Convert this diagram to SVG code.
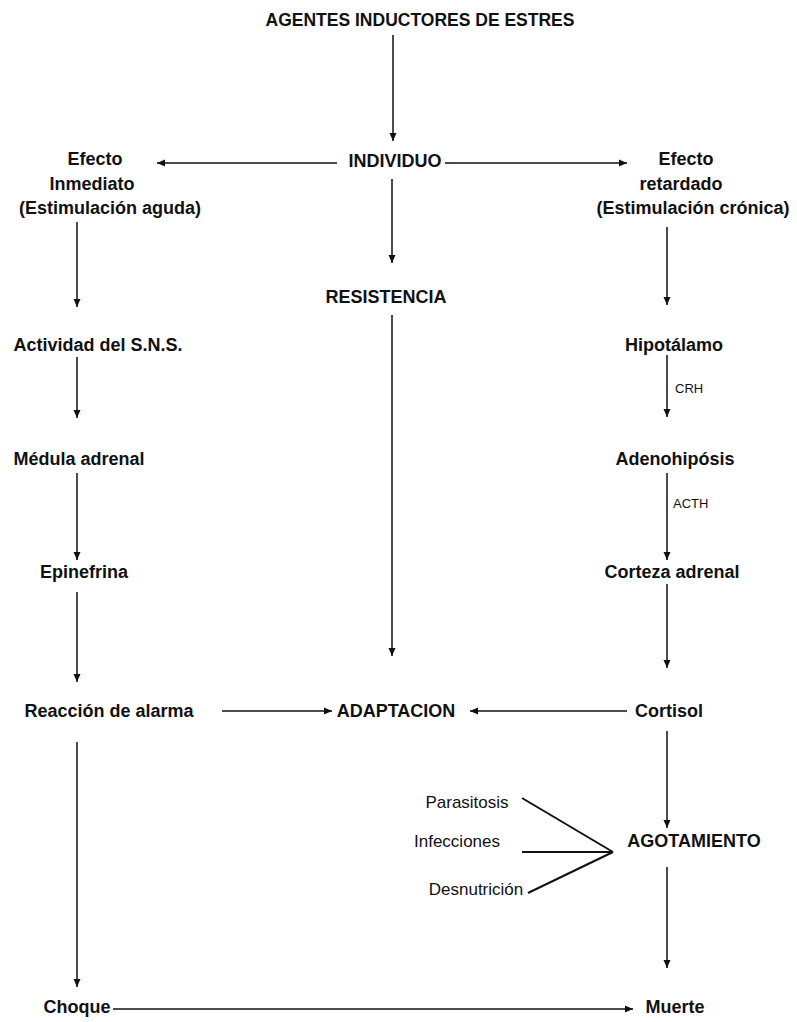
<svg xmlns="http://www.w3.org/2000/svg" width="797" height="1022" viewBox="0 0 797 1022">
<defs>
<marker id="ah" markerWidth="10" markerHeight="10" refX="8" refY="5" orient="auto" markerUnits="userSpaceOnUse">
<path d="M0,1.5 L8,5 L0,8.5 Z" fill="#111"/>
</marker>
<style>
.t{font-family:"Liberation Sans",Arial,sans-serif;font-weight:bold;font-size:18px;fill:#111;text-anchor:middle}
.n{font-family:"Liberation Sans",Arial,sans-serif;font-size:17px;fill:#111;text-anchor:middle}
.s{font-family:"Liberation Sans",Arial,sans-serif;font-size:13px;fill:#111;text-anchor:start}
.c{stroke:#111;stroke-width:1.5;fill:none;marker-end:url(#ah)}
.l{stroke:#111;stroke-width:2;fill:none}
</style>
</defs>
<rect width="797" height="1022" fill="#fff"/>
<g id="agentes"><text class="t" x="420" y="26" style="font-size:17.5px">AGENTES INDUCTORES DE ESTRES</text></g>
<g id="individuo"><text class="t" x="395" y="167">INDIVIDUO</text></g>
<g id="efecto-inmediato"><text class="t" x="95" y="165">Efecto</text><text class="t" x="92" y="190">Inmediato</text><text class="t" x="110" y="214">(Estimulación aguda)</text></g>
<g id="efecto-retardado"><text class="t" x="686" y="165">Efecto</text><text class="t" x="681" y="190">retardado</text><text class="t" x="693" y="214">(Estimulación crónica)</text></g>
<g id="resistencia"><text class="t" x="386" y="303">RESISTENCIA</text></g>
<g id="actividad"><text class="t" x="98" y="351">Actividad del S.N.S.</text></g>
<g id="hipotalamo"><text class="t" x="674" y="351">Hipotálamo</text></g>
<g id="medula"><text class="t" x="79" y="465">Médula adrenal</text></g>
<g id="adenohipofisis"><text class="t" x="675" y="465">Adenohipósis</text></g>
<g id="epinefrina"><text class="t" x="84" y="578">Epinefrina</text></g>
<g id="corteza"><text class="t" x="672" y="578">Corteza adrenal</text></g>
<g id="reaccion"><text class="t" x="109" y="717">Reacción de alarma</text></g>
<g id="adaptacion"><text class="t" x="396" y="717">ADAPTACION</text></g>
<g id="cortisol"><text class="t" x="669" y="717">Cortisol</text></g>
<g id="parasitosis"><text class="n" x="467" y="808">Parasitosis</text></g>
<g id="infecciones"><text class="n" x="457" y="847">Infecciones</text></g>
<g id="desnutricion"><text class="n" x="476" y="895">Desnutrición</text></g>
<g id="agotamiento"><text class="t" x="694" y="847">AGOTAMIENTO</text></g>
<g id="choque"><text class="t" x="77" y="1013">Choque</text></g>
<g id="muerte"><text class="t" x="675" y="1013">Muerte</text></g>
<g id="connectors">
<line class="c" x1="393" y1="35" x2="393" y2="141"/>
<line class="c" x1="337" y1="163" x2="157" y2="163"/>
<line class="c" x1="445" y1="163" x2="627" y2="163"/>
<line class="c" x1="392" y1="179" x2="392" y2="263"/>
<line class="c" x1="77" y1="222" x2="77" y2="307"/>
<line class="c" x1="667" y1="227" x2="667" y2="305"/>
<line class="c" x1="392" y1="315" x2="392" y2="656"/>
<line class="c" x1="77" y1="357" x2="77" y2="418"/>
<line class="c" x1="667" y1="355" x2="667" y2="417"/>
<line class="c" x1="77" y1="473" x2="77" y2="560"/>
<line class="c" x1="667" y1="473" x2="667" y2="560"/>
<line class="c" x1="77" y1="592" x2="77" y2="682"/>
<line class="c" x1="667" y1="584" x2="667" y2="668"/>
<line class="c" x1="222" y1="711" x2="332" y2="711"/>
<line class="c" x1="627" y1="711" x2="470" y2="711"/>
<line class="c" x1="77" y1="742" x2="77" y2="987"/>
<line class="c" x1="667" y1="731" x2="667" y2="828"/>
<line class="c" x1="667" y1="867" x2="667" y2="968"/>
<line class="c" x1="113" y1="1009" x2="633" y2="1009"/>
<line class="l" x1="522" y1="798" x2="613" y2="852"/>
<line class="l" x1="522" y1="852" x2="613" y2="852"/>
<line class="l" x1="528" y1="893" x2="613" y2="852"/>
</g>
<g id="edge-labels"><text class="s" x="675" y="393">CRH</text><text class="s" x="673" y="508">ACTH</text></g>
</svg>
